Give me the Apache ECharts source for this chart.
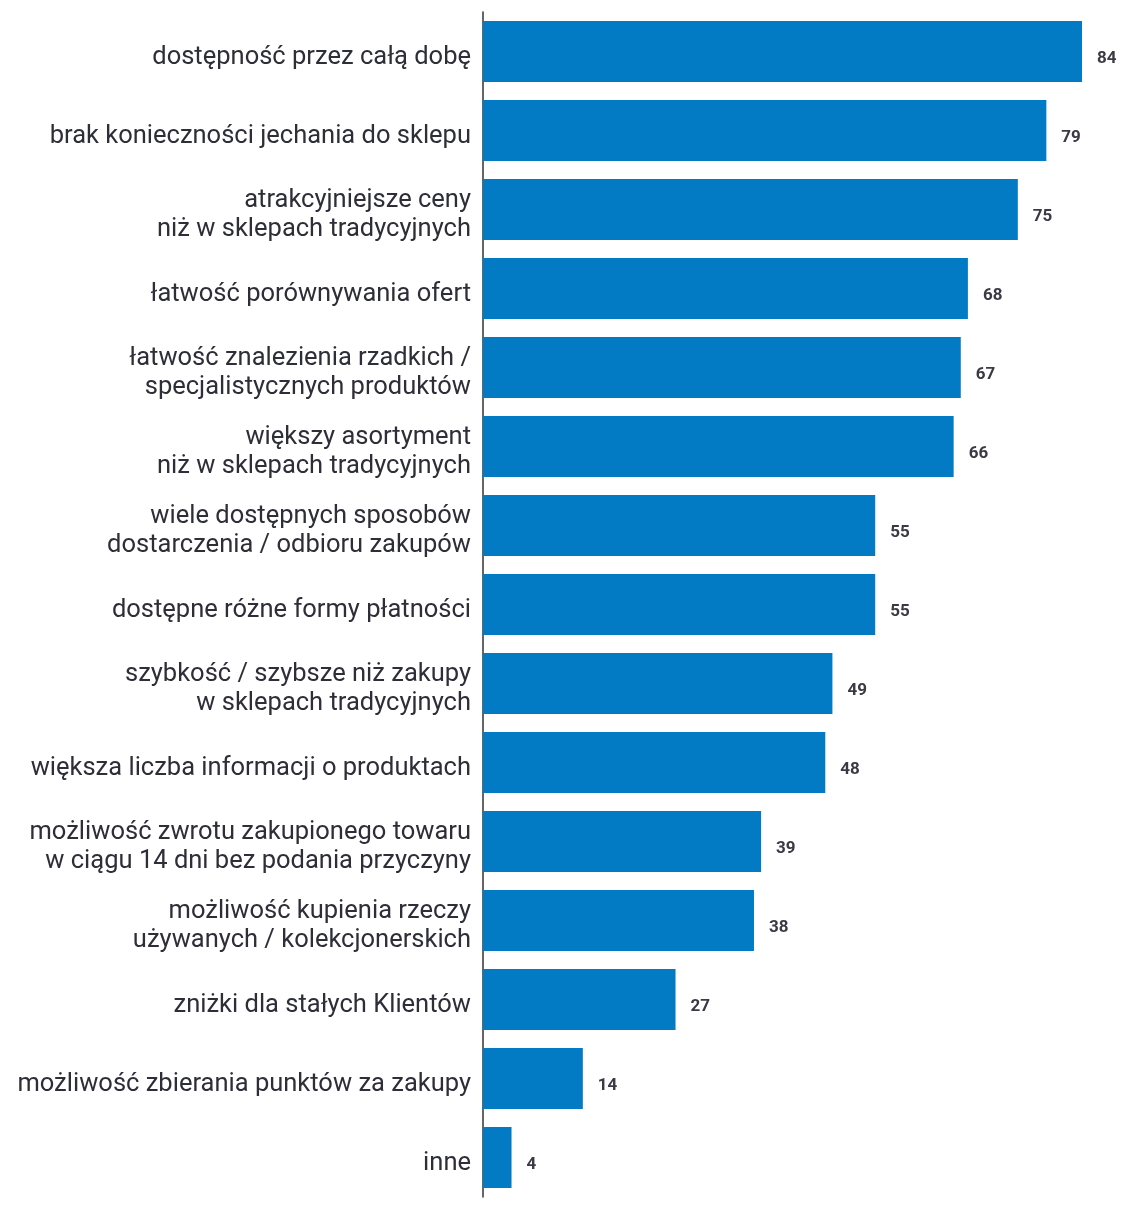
<!DOCTYPE html>
<html>
<head>
<meta charset="utf-8">
<script src="https://cdn.jsdelivr.net/npm/echarts@6/dist/echarts.min.js"></script>
<style>
  html, body { margin: 0; padding: 0; background: #fff; }
  #chart { width: 1124px; height: 1205px; }
</style>
</head>
<body>
<div id="chart"></div>
<script>
var categories = [
    'dostępność przez całą dobę',
    'brak konieczności jechania do sklepu',
    'atrakcyjniejsze ceny\nniż w sklepach tradycyjnych',
    'łatwość porównywania ofert',
    'łatwość znalezienia rzadkich /\nspecjalistycznych produktów',
    'większy asortyment\nniż w sklepach tradycyjnych',
    'wiele dostępnych sposobów\ndostarczenia / odbioru zakupów',
    'dostępne różne formy płatności',
    'szybkość / szybsze niż zakupy\nw sklepach tradycyjnych',
    'większa liczba informacji o produktach',
    'możliwość zwrotu zakupionego towaru\nw ciągu 14 dni bez podania przyczyny',
    'możliwość kupienia rzeczy\nużywanych / kolekcjonerskich',
    'zniżki dla stałych Klientów',
    'możliwość zbierania punktów za zakupy',
    'inne'
];
var values = [84, 79, 75, 68, 67, 66, 55, 55, 49, 48, 39, 38, 27, 14, 4];

var chart = echarts.init(document.getElementById('chart'));
var option = {
    backgroundColor: '#fff',
    animation: false,
    grid: {
        left: 483,
        right: 42,
        top: 12,
        bottom: 8
    },
    xAxis: {
        type: 'value',
        min: 0,
        max: 84,
        show: false
    },
    yAxis: {
        type: 'category',
        inverse: true,
        data: categories,
        axisLine: { show: true, lineStyle: { color: '#333', width: 1.5 } },
        axisTick: { show: false },
        axisLabel: {
            margin: 12,
            align: 'right',
            // each line is wrapped so it can be nudged down a little
            formatter: function (val) {
                return val.split('\n').map(function (s) {
                    return '{a|' + s + '}';
                }).join('\n');
            },
            rich: {
                a: {
                    fontFamily: 'Roboto',
                    fontSize: 25.5,
                    lineHeight: 29,
                    padding: [12, 0, 0, 0],
                    color: '#2e2e38',
                    align: 'right'
                }
            }
        }
    },
    series: [
        {
            type: 'bar',
            data: values,
            barWidth: 61,
            itemStyle: { color: '#027bc4' },
            label: {
                show: true,
                position: 'right',
                distance: 15,
                offset: [0, 7],
                fontFamily: 'Roboto',
                fontSize: 17,
                fontWeight: 'bold',
                color: '#3a3a44'
            }
        }
    ]
};
chart.setOption(option);
</script>
</body>
</html>
